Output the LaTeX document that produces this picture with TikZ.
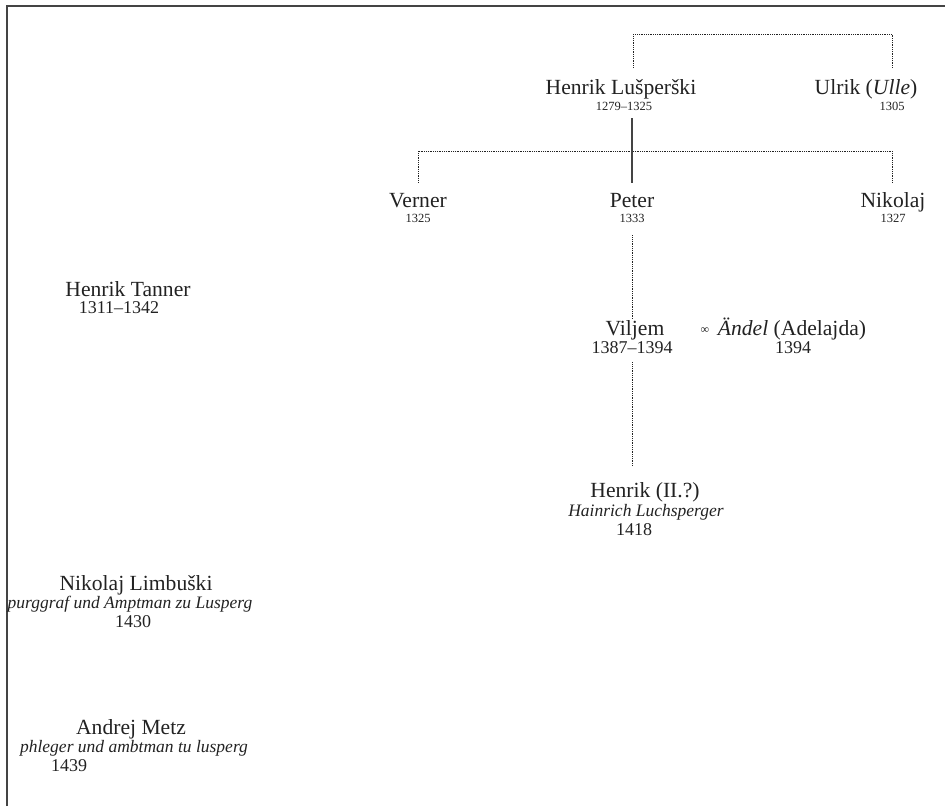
\documentclass[tikz,border=0pt]{standalone}
\usepackage{fontspec}
\setmainfont{Liberation Serif}
\usetikzlibrary{calc}
\definecolor{txt}{HTML}{222222}
\definecolor{frm}{HTML}{444444}
\begin{document}
\begin{tikzpicture}[x=1pt,y=-1pt,
  every node/.style={inner sep=0pt, anchor=base, text=txt},
  nm/.style={font=\fontsize{21.6}{24}\selectfont},
  sd/.style={font=\fontsize{12.5}{14}\selectfont},
  bd/.style={font=\fontsize{18}{20}\selectfont},
  it/.style={font=\fontsize{17.5}{20}\selectfont\itshape},
  fam/.style={line width=0.9pt, dash pattern=on 0.9pt off 0.9pt, draw=txt},
  desc/.style={line width=1.5pt, draw=frm},
  frame/.style={line width=2pt, draw=frm}]
\useasboundingbox (0,0) rectangle (945,806);
\draw[frame] (7,806) -- (7,6) -- (945,6);

% top generation
\node[nm] (hl) at (621,94) {Henrik Lušperški};
\node[sd] (hld) at (624,110) {1279–1325};
\node[nm] (ul) at (866,94) {Ulrik (\textit{Ulle})};
\node[sd] (uld) at (892,110) {1305};

% second generation
\node[nm] (ve) at (418,207) {Verner};
\node[sd] (ved) at (418,222) {1325};
\node[nm] (pe) at (632,207) {Peter};
\node[sd] (ped) at (632,222) {1333};
\node[nm] (ni) at (893,207) {Nikolaj};
\node[sd] (nid) at (893,222) {1327};

% Viljem
\node[nm] (vi) at (635,335) {Viljem};
\node[bd] (vid) at (632,353) {1387–1394};
\node[font=\fontsize{12}{14}\selectfont] (mar) at (705,333) {∞};
\node[nm] (an) at (792,335) {\textit{Ändel} (Adelajda)};
\node[bd] (and) at (793,353) {1394};

% Henrik II
\node[nm] (h2) at (645,497) {Henrik (II.?)};
\node[it] (h2a) at (646,516) {Hainrich Luchsperger};
\node[bd] (h2d) at (634,535) {1418};

% left column
\node[nm] (ht) at (128,296) {Henrik Tanner};
\node[bd] (htd) at (119,313) {1311–1342};
\node[nm] (nl) at (136,590) {Nikolaj Limbuški};
\node[it] (nla) at (130,608) {purggraf und Amptman zu Lusperg};
\node[bd] (nld) at (133,627) {1430};
\node[nm] (am) at (131,734) {Andrej Metz};
\node[it] (ama) at (134,752) {phleger und ambtman tu lusperg};
\node[bd] (amd) at (69,771) {1439};

% connectors
\coordinate (b1) at (633,34);
\coordinate (b2) at (892,34);
\draw[fam] ($(hl.north -| b1)+(0,-11)$) -- (b1) -- (b2) -- ($(ul.north -| b2)+(0,-11)$);

\coordinate (c1) at (418,151);
\coordinate (c2) at (892,151);
\draw[fam] ($(ve.north)+(0,-10)$) -- (c1) -- (c2) -- ($(ni.north -| c2)+(0,-10)$);

\draw[desc] ($(hld.south -| pe.north)+(0,8)$) -- ($(pe.north)+(0,-10)$);

\draw[fam] ($(ped.south)+(0,13)$) -- ($(vi.north -| ped.south)+(0,-1)$);
\draw[fam] ($(vid.south)+(0,9)$) -- ($(h2.north -| vid.south)+(0,-16)$);
\end{tikzpicture}
\end{document}
